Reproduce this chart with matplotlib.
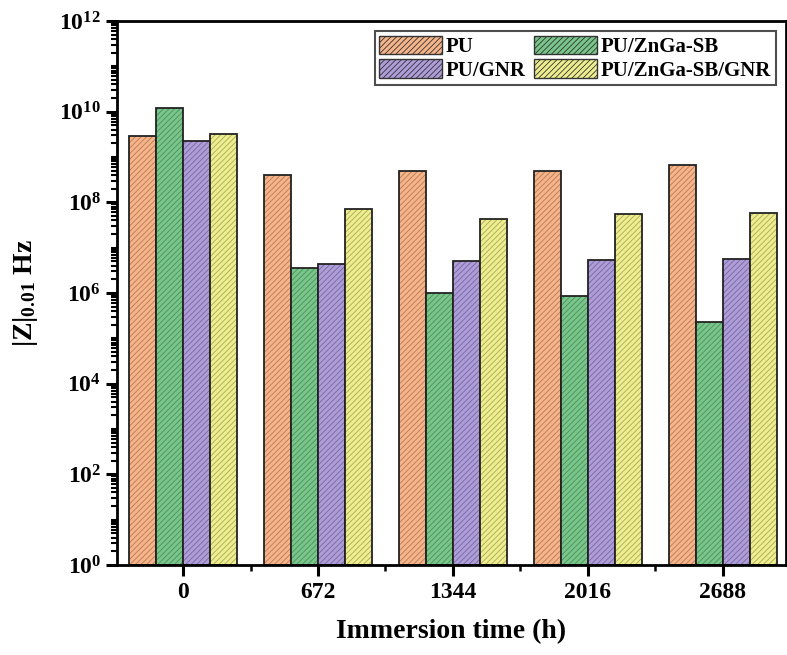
import numpy as np
import matplotlib
matplotlib.use("Agg")
import matplotlib.pyplot as plt
from matplotlib.ticker import LogLocator, FixedLocator, NullFormatter, MultipleLocator

plt.rcParams['font.family'] = 'Liberation Serif'
plt.rcParams['font.weight'] = 'bold'
plt.rcParams['mathtext.fontset'] = 'custom'
plt.rcParams['mathtext.rm'] = 'Liberation Serif:bold'
plt.rcParams['mathtext.bf'] = 'Liberation Serif:bold'
plt.rcParams['mathtext.it'] = 'Liberation Serif:bold:italic'
plt.rcParams['hatch.linewidth'] = 0.6

times = ['0', '672', '1344', '2016', '2688']
series = ['PU', 'PU/ZnGa-SB', 'PU/GNR', 'PU/ZnGa-SB/GNR']
pu = [2.95e9, 4.0e8, 5.0e8, 5.0e8, 6.6e8]
pu_znga = [1.18e10, 3.6e6, 9.8e5, 8.7e5, 2.3e5]
pu_gnr = [2.29e9, 4.3e6, 5.1e6, 5.4e6, 5.6e6]
pu_znga_gnr = [3.26e9, 7.1e7, 4.3e7, 5.5e7, 5.9e7]
values = [pu, pu_znga, pu_gnr, pu_znga_gnr]
face = ['#F5B489', '#78C68A', '#AE9DD8', '#EEEE8E']
hatch_c = ['#B87A55', '#4E8E5E', '#76699E', '#A8A860']

fig = plt.figure(figsize=(7.87, 6.55), dpi=100)
ax = fig.add_axes([0.1487, 0.1374, 0.8500, 0.8306])

x = np.arange(len(times))
w = 0.2
handles = []
for i in range(4):
    pos = x + (i - 1.5) * w
    ax.bar(pos, values[i], w, color=face[i], edgecolor=hatch_c[i],
           hatch='//////', linewidth=0, bottom=1)
    ax.bar(pos, values[i], w, fill=False, edgecolor='#222222',
           linewidth=1.3, bottom=1)
    handles.append(plt.Rectangle((0, 0), 1, 1, facecolor=face[i],
                                 edgecolor=hatch_c[i], hatch='//////',
                                 linewidth=0))

ax.set_yscale('log')
ax.set_ylim(1, 1e12)
ax.set_xlim(-0.49, 4.47)

yt = [10.0 ** k for k in range(0, 13, 2)]
ax.yaxis.set_major_locator(FixedLocator(yt))
ax.set_yticklabels([r'$\mathbf{10^{%d}}$' % k for k in range(0, 13, 2)])
ax.yaxis.set_minor_locator(LogLocator(base=10, subs=np.arange(1, 10) * 1.0, numticks=100))
ax.yaxis.set_minor_formatter(NullFormatter())

ax.set_xticks(x)
ax.set_xticklabels(times)
ax.xaxis.set_minor_locator(MultipleLocator(0.5))

ax.tick_params(which='major', direction='out', length=8, width=2.2, labelsize=17,
               top=False, right=False)
ax.tick_params(axis='x', which='major', pad=4)
ax.tick_params(axis='y', which='minor', direction='out', length=4, width=1.5, right=False)
ax.tick_params(axis='x', which='minor', direction='out', length=4, width=1.8, top=False)
for s in ax.spines.values():
    s.set_linewidth(2)

ax.set_xlabel('Immersion time (h)', fontsize=20, fontweight='bold', labelpad=12)
ax.set_ylabel(r'$\mathbf{|Z|_{0.01}}$ Hz', fontsize=20, fontweight='bold', labelpad=14)

# column-first fill: reorder so rows read PU, PU/ZnGa-SB / PU/GNR, PU/ZnGa-SB/GNR
order = [0, 2, 1, 3]
leg = ax.legend([handles[k] for k in order], [series[k] for k in order],
                loc='upper right', ncol=2, fontsize=15,
                frameon=True, fancybox=False, edgecolor='#222222',
                handlelength=3.0, handleheight=1.0, handletextpad=0.2,
                columnspacing=0.4, labelspacing=0.1, borderpad=0.2,
                borderaxespad=0.5)
leg.get_frame().set_linewidth(1.5)
for p in leg.get_patches():
    p.set_edgecolor('#333333')
    p.set_linewidth(1.0)

fig.savefig('out.png', dpi=100)
